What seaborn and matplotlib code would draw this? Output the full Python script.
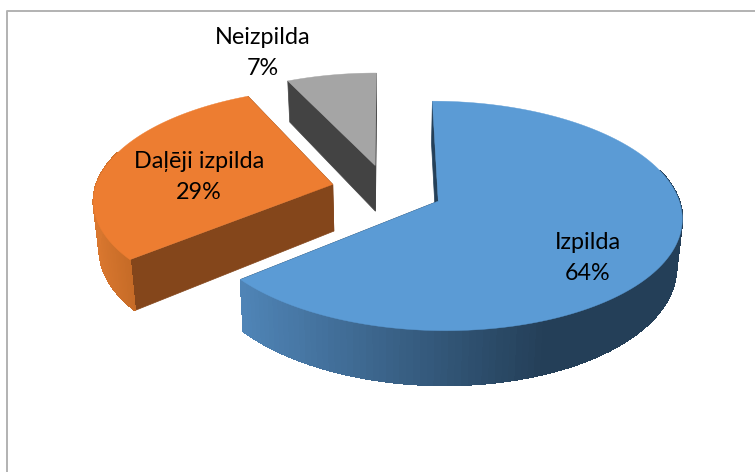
"""3D exploded pie chart, drawn on a plain pixel-sized axes."""
import matplotlib
matplotlib.use("Agg")
import matplotlib.pyplot as plt
import numpy as np
import seaborn as sns

labels = ["Izpilda", "Daļēji izpilda", "Neizpilda"]
shares = [64, 29, 7]

top_colors = ["#5B9BD5", "#ED7D31", "#A5A5A5"]
face_colors = ["#244059", "#84461B", "#434343"]
wall_light = ["#4F84B6", "#D9772F", "#6E6E6E"]
wall_dark = ["#243F58", "#C46A26", "#434343"]
wall_span = [305, 40, 40]
label_pos = [(588, 258), (199, 177), (263, 53)]

# projection of the pie disc onto the page, in pixels
CX, CY = 387, 190
RX, RY = 238, 110
PERSP = 0.127
DEPTH = 47
BOTTOM_SHRINK = 0.98
EXPLODE = 0.235


def project(x, y, bottom=False):
    s = 1 / (1 + PERSP * y)
    sx = CX + RX * x * s * (BOTTOM_SHRINK if bottom else 1)
    sy = CY - RY * y * s + (DEPTH * s if bottom else 0)
    return sx, sy


def draw_slice(ax, start, end, i):
    mid = (start + end) / 2
    ox, oy = EXPLODE * np.sin(mid), EXPLODE * np.cos(mid)
    theta = np.linspace(start, end, 160)
    xs, ys = ox + np.sin(theta), oy + np.cos(theta)
    tx, ty = project(xs, ys)
    bx, by = project(xs, ys, True)

    # cut faces, the far one first
    for t in sorted([start, end], key=lambda a: -np.cos(a)):
        cx, cy = ox + np.sin(t), oy + np.cos(t)
        a = project(ox, oy)
        b = project(cx, cy)
        c = project(cx, cy, True)
        d = project(ox, oy, True)
        ax.fill(*zip(a, b, c, d), color=face_colors[i], lw=0.5, zorder=2 + i)

    # outer wall, front part only, small quads so the shading can follow the page x
    shades = sns.blend_palette([wall_light[i], wall_dark[i]], 64)
    x_lo = tx.min()
    for k in range(len(theta) - 1):
        if np.cos(theta[k]) > 0.3:
            continue
        frac = np.clip((tx[k] - x_lo) / wall_span[i], 0, 1)
        ax.fill([tx[k], tx[k + 1], bx[k + 1], bx[k]], [ty[k], ty[k + 1], by[k + 1], by[k]],
                color=shades[int(frac * 63)], lw=0.7, antialiased=False, zorder=2.2 + i)

    # top surface
    ax_, ay_ = project(ox, oy)
    ax.fill(np.r_[ax_, tx], np.r_[ay_, ty], color=top_colors[i], lw=0.3, zorder=2.5 + i)


sns.set_theme(style="white")
plt.rcParams["font.family"] = ["Lato", "DejaVu Sans"]

fig = plt.figure(figsize=(7.55, 4.72), dpi=100)
ax = fig.add_axes([0, 0, 1, 1])
ax.set_xlim(0, 755)
ax.set_ylim(472, 0)
ax.axis("off")

# chart frame: left and top edges only reach the picture
ax.plot([6.5, 6.5, 755], [472, 11, 11], color="#B2B2B2", lw=1.4, zorder=1)

edges = np.cumsum([0] + shares) / sum(shares) * 2 * np.pi
for i in range(len(shares)):
    draw_slice(ax, edges[i], edges[i + 1], i)

for name, share, (px, py) in zip(labels, shares, label_pos):
    ax.text(px, py, f"{name}\n{share}%", ha="center", va="center", fontsize=16.8,
            color="black", linespacing=1.6, zorder=10)

fig.savefig("out.png", dpi=100)
plt.close(fig)
